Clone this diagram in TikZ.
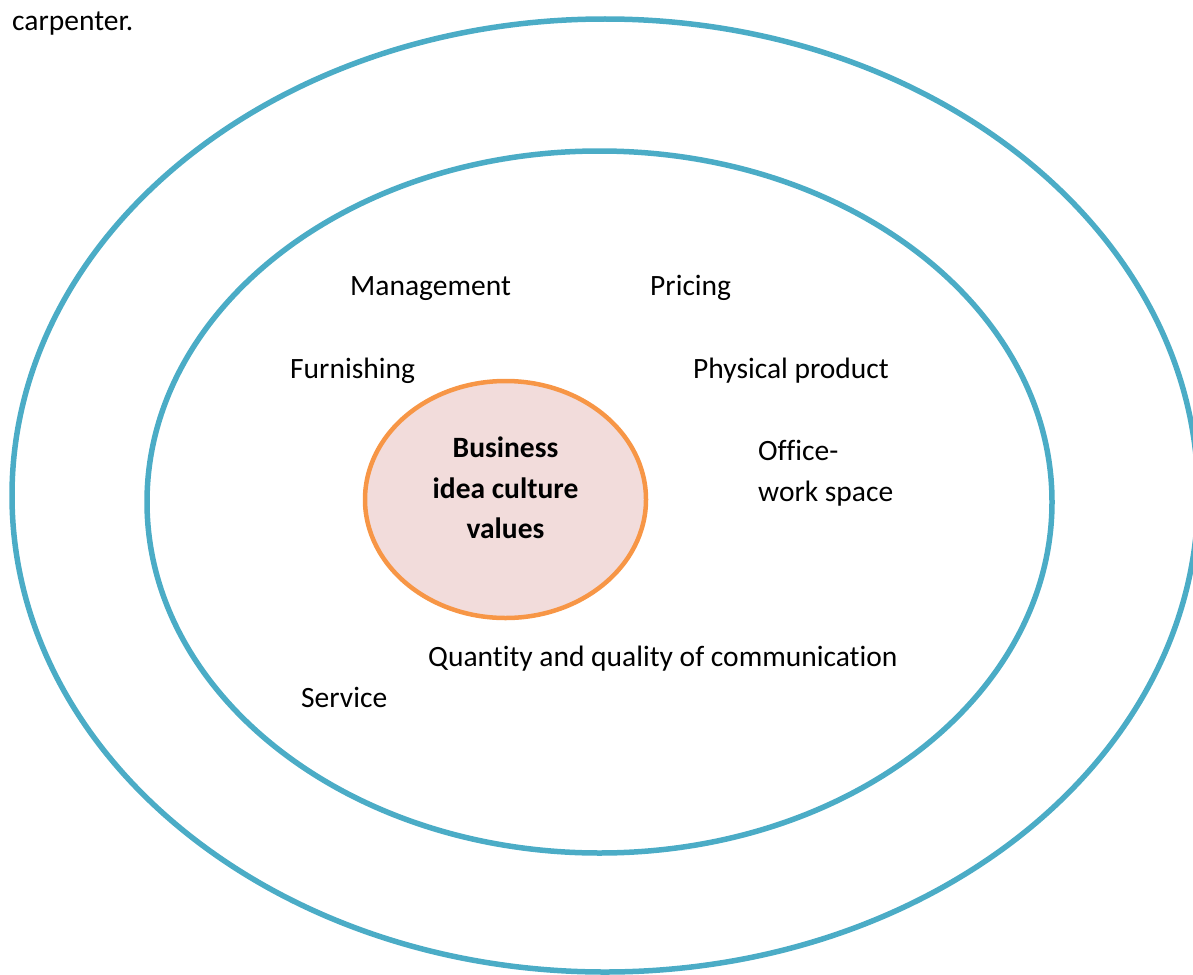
\documentclass[tikz,border=0pt]{standalone}
\usepackage{fontspec}
\setmainfont[Ligatures=NoCommon]{Carlito}
\usetikzlibrary{shapes.geometric}
\definecolor{ringblue}{HTML}{4BACC6}
\definecolor{coreorange}{HTML}{F79646}
\definecolor{corefill}{HTML}{F2DCDB}
\begin{document}
\begin{tikzpicture}[x=1pt,y=-1pt,
  ring/.style={ellipse, draw=ringblue, line width=5.5pt, inner sep=0pt},
  coreshape/.style={ellipse, draw=coreorange, fill=corefill, line width=4.5pt, inner sep=0pt},
  lbl/.style={anchor=base west, inner sep=0pt, font=\fontsize{29.5}{41}\selectfont},
  corelbl/.style={anchor=base, inner sep=0pt, font=\fontsize{29.5}{41}\selectfont\bfseries}]
  \useasboundingbox (0,0) rectangle (1193,974);
  \clip (0,0) rectangle (1193,974);
  % caption fragment above the figure
  \node[lbl] (carp) at (12,31) {carpenter.};
  % rings
  \node[ring, minimum width=1186pt, minimum height=953pt] (outer) at (605,495.5) {};
  \node[ring, minimum width=905pt, minimum height=702pt] (inner) at (599.5,502) {};
  % core
  \node[coreshape, minimum width=281pt, minimum height=237pt] (core) at (505.5,499.5) {};
  \node[corelbl] (core1) at (505.5,457) {Business};
  \node[corelbl] (core2) at (505.5,498) {idea culture};
  \node[corelbl] (core3) at (505.5,538) {values};
  % factors
  \node[lbl] (mgmt) at (350,295) {Management};
  \node[lbl] (pricing) at (650,295) {Pricing};
  \node[lbl] (furn) at (290,378) {Furnishing};
  \node[lbl] (phys) at (693,378) {Physical product};
  \node[lbl] (office1) at (758,460) {Office-};
  \node[lbl] (office2) at (758,501) {work space};
  \node[lbl] (comm) at (428,666) {Quantity and quality of communication};
  \node[lbl] (service) at (301,707) {Service};
\end{tikzpicture}
\end{document}
